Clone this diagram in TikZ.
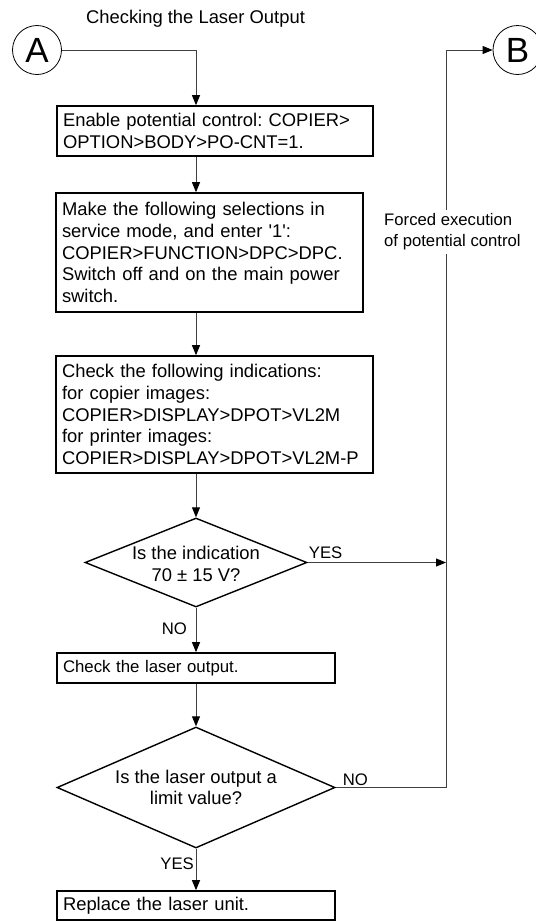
\documentclass[tikz,border=0pt]{standalone}
\usepackage{fontspec}
\setmainfont{Liberation Sans}[Ligatures=TeXOff]
\usetikzlibrary{arrows.meta,shapes.geometric}
\newcommand\fbody{\fontsize{18.4}{21.7}\selectfont}
\newcommand\fsmall{\fontsize{16.7}{21}\selectfont}
\newcommand\fbig{\fontsize{35}{40}\selectfont}
\frenchspacing
\begin{document}
\begin{tikzpicture}[x=1pt,y=-1pt,
  box/.style={draw, line width=1.6pt, rectangle, align=left, inner xsep=6pt, inner ysep=0pt, font=\fbody},
  dia/.style={diamond, draw, line width=1.4pt, inner sep=0pt},
  conn/.style={line width=0.9pt, draw=black!75},
  arr/.style={conn, -{Triangle[length=10pt,width=8pt,color=black,fill=black]}},
  lbl/.style={font=\fsmall, inner sep=0pt},
  conn circ/.style={circle, draw, line width=0.8pt, minimum size=49pt, inner sep=0pt, font=\fbig}]
\useasboundingbox (0,0) rectangle (536,922);

\node[font=\fbody] (title) at (195.5,18.5) {Checking the Laser Output};

\node[conn circ] (A) at (37,50) {A};
\node[conn circ] (B) at (517.5,50) {B};

\node[box, text width=304pt, minimum height=50pt] (b1) at (215,131)
  {Enable potential control: COPIER>\\OPTION>BODY>PO-CNT=1.};
\node[box, text width=295pt, minimum height=119pt] (b2) at (209.5,252.5)
  {Make the following selections in\\service mode, and enter '1':\\COPIER>FUNCTION>DPC>DPC.\\Switch off and on the main power\\switch.};
\node[box, text width=305pt, minimum height=117pt] (b3) at (214.5,414.5)
  {Check the following indications:\\for copier images:\\COPIER>DISPLAY>DPOT>VL2M\\for printer images:\\COPIER>DISPLAY>DPOT>VL2M-P};

\node[dia, minimum width=222pt, minimum height=89pt] (d1) at (196,562.5) {};
\node[font=\fbody, align=center, inner sep=0pt] (t1) at (196,564) {Is the indication\\70 ± 15 V?};

\node[box, text width=266pt, minimum height=30pt, font=\fontsize{16.8}{20}\selectfont] (b4) at (196,668)
  {Check the laser output.};

\node[dia, minimum width=278pt, minimum height=121pt] (d2) at (196,787.5) {};
\node[font=\fbody, align=center, inner sep=0pt] (t2) at (196,787.5) {Is the laser output a\\limit value?};

\node[box, text width=266pt, minimum height=29pt] (b5) at (196,905.5)
  {Replace the laser unit.};

\node[font=\fsmall, align=left, anchor=west, inner xsep=0pt, inner ysep=4pt] (forced) at (384,232)
  {Forced execution\\of potential control};

\node[lbl, anchor=base west] (yes1) at ([xshift=1pt,yshift=4pt]d1.east) {YES};
\node[lbl, anchor=base east] (no1) at ([xshift=-9pt,yshift=-27pt]d1.south) {NO};
\node[lbl, anchor=base west] (no2) at ([xshift=7pt,yshift=2.5pt]d2.east) {NO};
\node[lbl, anchor=base east] (yes2) at ([xshift=-2pt,yshift=-20.3pt]d2.south) {YES};

\coordinate (vb) at (446,787.5);
\coordinate (vt) at (446,50);

\draw[arr] (A.east) -| (b1.north -| d1.north);
\draw[arr] (b1.south -| d1.north) -- (b2.north -| d1.north);
\draw[arr] (b2.south -| d1.north) -- (b3.north -| d1.north);
\draw[arr] (b3.south -| d1.north) -- (d1.north);
\draw[arr] (d1.south) -- (b4.north -| d1.south);
\draw[arr] (b4.south -| d1.south) -- (d2.north);
\draw[arr] (d2.south) -- (b5.north -| d2.south);
\draw[arr] (d1.east) -- (d1.east -| vb);
\draw[conn] (d2.east) -- (vb) -- (forced.south -| vb);
\draw[arr] (forced.north -| vb) -- (vt) -- (B.west);
\end{tikzpicture}
\end{document}
